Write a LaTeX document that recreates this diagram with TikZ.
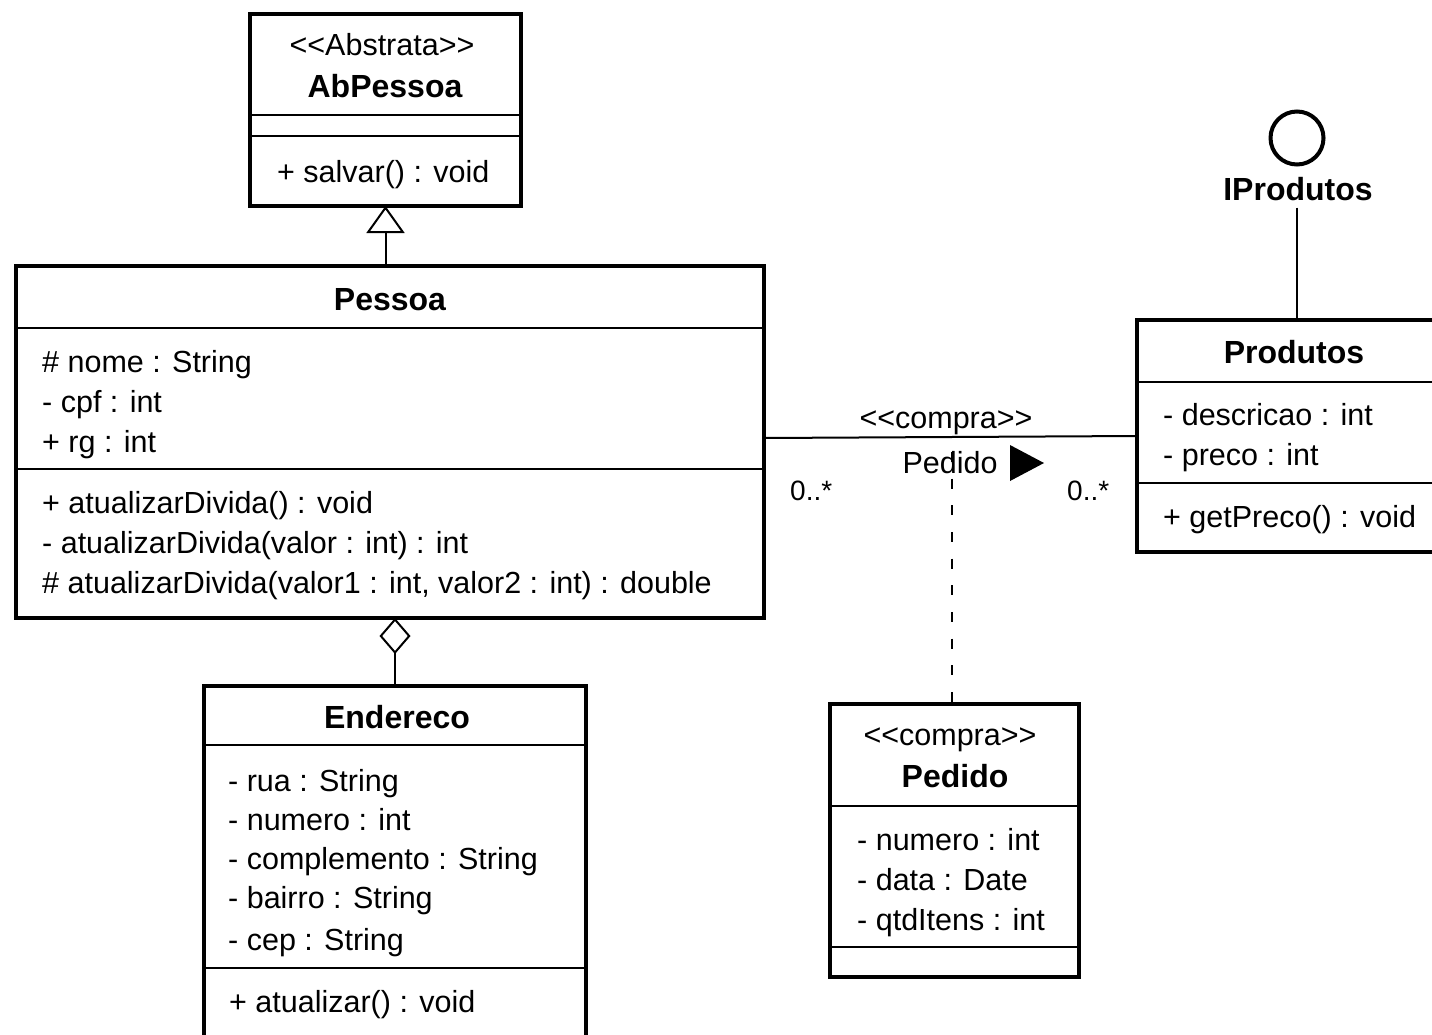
\documentclass[tikz,border=0pt]{standalone}
\usepackage{fontspec}
\setmainfont{Liberation Sans}
\usetikzlibrary{arrows.meta}
\begin{document}
\begin{tikzpicture}[x=1pt,y=-1pt,
  classbox/.style={draw,line width=4pt,rectangle,inner sep=0pt,outer sep=0pt},
  txt/.style={anchor=base west,inner sep=0pt,font=\fontsize{30.5}{36}\selectfont},
  ttl/.style={anchor=base,inner sep=0pt,font=\bfseries\fontsize{32}{38}\selectfont},
  ster/.style={anchor=base,inner sep=0pt,font=\fontsize{30.5}{36}\selectfont},
  mult/.style={anchor=base west,inner sep=0pt,font=\fontsize{28}{34}\selectfont},
  divline/.style={line width=2pt},
  conn/.style={line width=2pt},
  gen/.style={line width=2pt,-{Triangle[open,length=27pt,width=38pt,line width=2pt]}},
  agg/.style={line width=2pt,-{Diamond[open,length=36pt,width=31pt,line width=2pt]}},
  dep/.style={line width=2pt,dash pattern=on 10pt off 16.67pt}]
\useasboundingbox (0,0) rectangle (1432,1034);
\fill[white] (0,0) rectangle (1432,1034);
\clip (0,0) rectangle (1432,1034);

% AbPessoa
\node[classbox,minimum width=271pt,minimum height=192pt] (abpessoa) at (385.5,110) {};
\draw[divline] (abpessoa.west |- 0,115) -- (abpessoa.east |- 0,115);
\draw[divline] (abpessoa.west |- 0,136) -- (abpessoa.east |- 0,136);
\node[ster] (abster) at (382,55) {<\kern0pt<Abstrata>\kern0pt>};
\node[ttl] (abtitle) at (385,97) {AbPessoa};
\node[txt] (abm1) at (277,182) {+ salvar() : void};

% Pessoa
\node[classbox,minimum width=748pt,minimum height=352pt] (pessoa) at (390,442) {};
\draw[divline] (pessoa.west |- 0,328) -- (pessoa.east |- 0,328);
\draw[divline] (pessoa.west |- 0,469) -- (pessoa.east |- 0,469);
\node[ttl] (ptitle) at (390,310) {Pessoa};
\node[txt] (pa1) at (42,372) {\# nome : String};
\node[txt] (pa2) at (42,412) {- cpf : int};
\node[txt] (pa3) at (42,452) {+ rg : int};
\node[txt] (pm1) at (42,513) {+ atualizarDivida() : void};
\node[txt] (pm2) at (42,553) {- atualizarDivida(valor : int) : int};
\node[txt] (pm3) at (42,593) {\# atualizarDivida(valor1 : int, valor2 : int) : double};

% Endereco
\node[classbox,minimum width=382pt,minimum height=414pt] (endereco) at (395,893) {};
\draw[divline] (endereco.west |- 0,745) -- (endereco.east |- 0,745);
\draw[divline] (endereco.west |- 0,968) -- (endereco.east |- 0,968);
\node[ttl] (etitle) at (397,728) {Endereco};
\node[txt] (ea1) at (228,791) {- rua : String};
\node[txt] (ea2) at (228,830) {- numero : int};
\node[txt] (ea3) at (228,869) {- complemento : String};
\node[txt] (ea4) at (228,908) {- bairro : String};
\node[txt] (ea5) at (228,950) {- cep : String};
\node[txt] (em1) at (229,1012) {+ atualizar() : void};

% Produtos
\node[classbox,minimum width=343pt,minimum height=232pt] (produtos) at (1308.5,436) {};
\draw[divline] (produtos.west |- 0,382) -- (produtos.east |- 0,382);
\draw[divline] (produtos.west |- 0,483) -- (produtos.east |- 0,483);
\node[ttl] (prtitle) at (1294,363) {Produtos};
\node[txt] (pra1) at (1163,425) {- descricao : int};
\node[txt] (pra2) at (1163,465) {- preco : int};
\node[txt] (prm1) at (1163,527) {+ getPreco() : void};

% Interface IProdutos
\node[draw,circle,line width=4pt,minimum size=53pt,inner sep=0pt] (iprod) at (1297,138) {};
\node[ttl] (iplabel) at (1298,200) {IProdutos};
\draw[conn] ([yshift=-7pt]iplabel.south -| iprod) -- (produtos.north -| iprod);

% Pedido
\node[classbox,minimum width=249pt,minimum height=273pt] (pedido) at (954.5,840.5) {};
\draw[divline] (pedido.west |- 0,806) -- (pedido.east |- 0,806);
\draw[divline] (pedido.west |- 0,947) -- (pedido.east |- 0,947);
\node[ster] (pedster) at (950,745) {<\kern0pt<compra>\kern0pt>};
\node[ttl] (pedtitle) at (955,787) {Pedido};
\node[txt] (peda1) at (857,850) {- numero : int};
\node[txt] (peda2) at (857,890) {- data : Date};
\node[txt] (peda3) at (857,930) {- qtdItens : int};

% Connectors
\draw[gen] (pessoa.north -| abpessoa.south) -- (abpessoa.south);
\draw[agg] (endereco.north) -- (endereco.north |- pessoa.south);
\draw[conn] ([yshift=4pt]pessoa.east) -- (produtos.west);

% Association labels
\node[ster] (asster) at (946,428) {<\kern0pt<compra>\kern0pt>};
\node[anchor=base,inner sep=0pt,font=\fontsize{30.5}{36}\selectfont] (asname) at (950,473) {Pedido};
\fill (1010,445) -- (1044,463) -- (1010,481) -- cycle;
\node[mult] (m1) at (790,500) {0..*};
\node[mult] (m2) at (1067,500) {0..*};

% Association class dependency
\coordinate (dend) at (952,452);
\draw[dep] (dend) -- (pedido.north -| dend);
\end{tikzpicture}
\end{document}
